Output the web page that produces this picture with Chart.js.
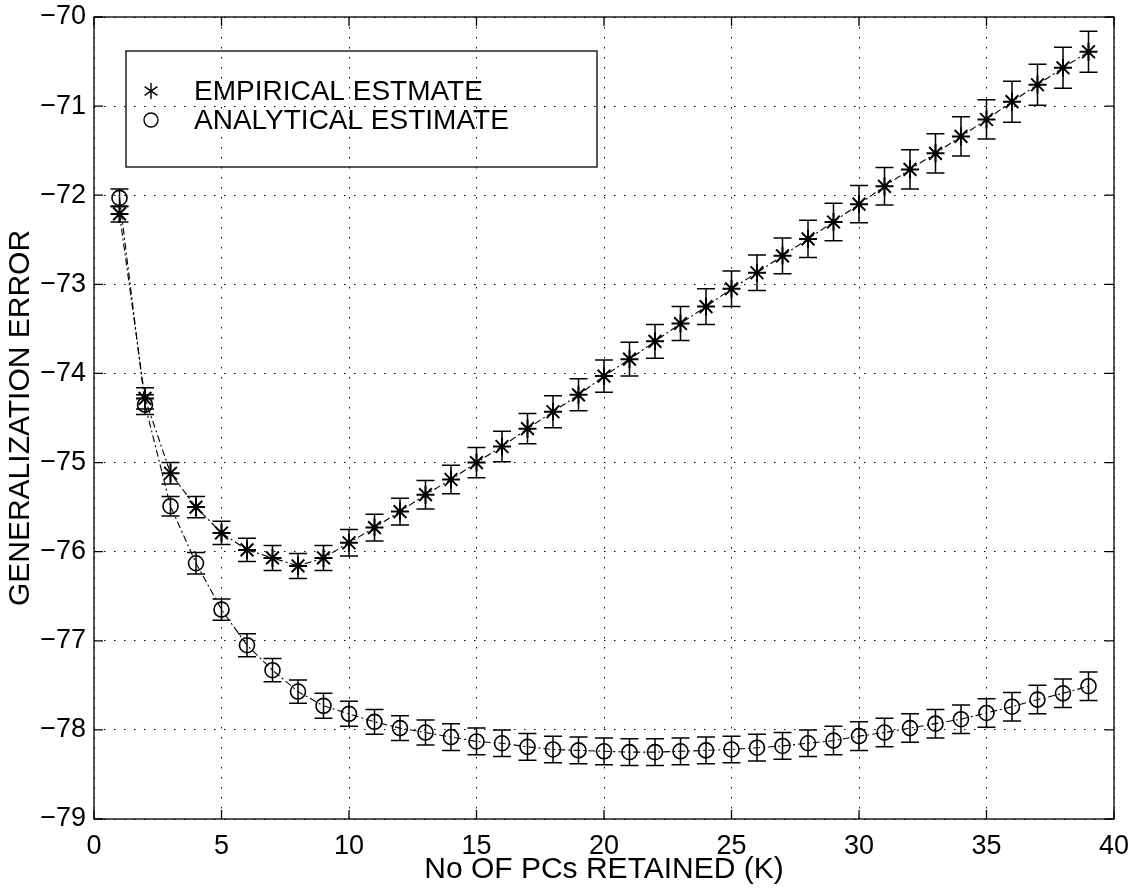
<!DOCTYPE html>
<html>
<head>
<meta charset="utf-8">
<script src="https://cdn.jsdelivr.net/npm/chart.js@4"></script>
<style>
  html, body { margin: 0; padding: 0; background: #fff; }
  #wrap { width: 1138px; height: 890px; }
</style>
</head>
<body>
<div id="wrap"><canvas id="gen-chart" width="1138" height="890"></canvas></div>
<script>
const FONT = '"Liberation Sans", Arial, Helvetica, sans-serif';

// number of PCs retained
const kValues = [1, 2, 3, 4, 5, 6, 7, 8, 9, 10, 11, 12, 13, 14, 15, 16, 17, 18, 19, 20,
  21, 22, 23, 24, 25, 26, 27, 28, 29, 30, 31, 32, 33, 34, 35, 36, 37, 38, 39];

const empirical = [-72.21, -74.28, -75.12, -75.50, -75.79, -75.98, -76.07, -76.16, -76.07, -75.90,
  -75.73, -75.55, -75.36, -75.19, -75.00, -74.82, -74.62, -74.43, -74.24, -74.03,
  -73.84, -73.64, -73.44, -73.25, -73.05, -72.87, -72.68, -72.49, -72.30, -72.10,
  -71.90, -71.71, -71.53, -71.34, -71.15, -70.95, -70.76, -70.57, -70.39];
const empiricalErr = [0.09, 0.12, 0.12, 0.12, 0.13, 0.13, 0.14, 0.14, 0.14, 0.15,
  0.15, 0.15, 0.16, 0.16, 0.17, 0.17, 0.17, 0.18, 0.18, 0.18,
  0.19, 0.19, 0.19, 0.20, 0.20, 0.20, 0.20, 0.21, 0.21, 0.21,
  0.21, 0.22, 0.22, 0.22, 0.22, 0.23, 0.23, 0.23, 0.23];

const analytical = [-72.03, -74.35, -75.49, -76.13, -76.65, -77.05, -77.33, -77.57, -77.73, -77.82,
  -77.91, -77.98, -78.03, -78.08, -78.13, -78.15, -78.19, -78.22, -78.23, -78.24,
  -78.25, -78.25, -78.24, -78.23, -78.22, -78.20, -78.18, -78.15, -78.12, -78.07,
  -78.03, -77.98, -77.93, -77.88, -77.81, -77.74, -77.66, -77.59, -77.51];
const analyticalErr = [0.10, 0.11, 0.11, 0.12, 0.12, 0.13, 0.13, 0.13, 0.14, 0.14,
  0.14, 0.14, 0.14, 0.15, 0.15, 0.15, 0.15, 0.15, 0.15, 0.15,
  0.15, 0.15, 0.15, 0.15, 0.15, 0.15, 0.15, 0.15, 0.16, 0.16,
  0.16, 0.16, 0.16, 0.16, 0.16, 0.16, 0.16, 0.16, 0.16];

const legendLabels = ['EMPIRICAL ESTMATE', 'ANALYTICAL ESTIMATE'];
const xTitle = 'No OF PCs RETAINED (K)';
const yTitle = 'GENERALIZATION ERROR';

function toPoints(xs, ys) {
  return xs.map((x, i) => ({ x: x, y: ys[i] }));
}

function fmtTick(v) {
  return v < 0 ? '\u2212' + Math.abs(v) : String(v);
}

// vertical error bars with caps, drawn through the scales
const errorBars = {
  id: 'errorBars',
  afterDatasetsDraw(chart) {
    const ctx = chart.ctx;
    const xs = chart.scales.x, ys = chart.scales.y;
    ctx.save();
    ctx.strokeStyle = '#000';
    ctx.lineWidth = 1.5;
    ctx.setLineDash([]);
    chart.data.datasets.forEach(ds => {
      if (!ds.errors) return;
      ds.data.forEach((p, i) => {
        const px = xs.getPixelForValue(p.x);
        const top = ys.getPixelForValue(p.y + ds.errors[i]);
        const bot = ys.getPixelForValue(p.y - ds.errors[i]);
        ctx.beginPath();
        ctx.moveTo(px, top); ctx.lineTo(px, bot);
        ctx.moveTo(px - 9, top); ctx.lineTo(px + 9, top);
        ctx.moveTo(px - 9, bot); ctx.lineTo(px + 9, bot);
        ctx.stroke();
      });
    });
    ctx.restore();
  }
};

// box, inward ticks and legend box (matlab look)
const frame = {
  id: 'frame',
  afterDraw(chart) {
    const ctx = chart.ctx;
    const a = chart.chartArea;
    const xs = chart.scales.x, ys = chart.scales.y;
    ctx.save();
    ctx.setLineDash([]);
    ctx.strokeStyle = '#000';
    ctx.lineWidth = 1.3;
    ctx.strokeRect(a.left, a.top, a.right - a.left, a.bottom - a.top);
    ctx.beginPath();
    xs.ticks.forEach(t => {
      const px = xs.getPixelForValue(t.value);
      ctx.moveTo(px, a.bottom); ctx.lineTo(px, a.bottom - 9);
      ctx.moveTo(px, a.top); ctx.lineTo(px, a.top + 9);
    });
    ys.ticks.forEach(t => {
      const py = ys.getPixelForValue(t.value);
      ctx.moveTo(a.left, py); ctx.lineTo(a.left + 9, py);
      ctx.moveTo(a.right, py); ctx.lineTo(a.right - 9, py);
    });
    ctx.stroke();

    // legend
    const lx = a.left + 32, ly = a.top + 34, lw = 471, lh = 116;
    ctx.lineWidth = 1.3;
    ctx.strokeRect(lx, ly, lw, lh);
    ctx.fillStyle = '#000';
    ctx.font = '28px ' + FONT;
    ctx.textBaseline = 'middle';
    ctx.textAlign = 'left';
    const rows = [ly + 40, ly + 69];
    ctx.fillText(legendLabels[0], lx + 68, rows[0] + 1);
    ctx.fillText(legendLabels[1], lx + 68, rows[1] + 1);
    // star marker
    const sx = lx + 25, r = 8;
    ctx.lineWidth = 1.4;
    ctx.beginPath();
    ctx.moveTo(sx, rows[0] - r); ctx.lineTo(sx, rows[0] + r);
    ctx.moveTo(sx - r * 0.8, rows[0] - r * 0.55); ctx.lineTo(sx + r * 0.8, rows[0] + r * 0.55);
    ctx.moveTo(sx - r * 0.8, rows[0] + r * 0.55); ctx.lineTo(sx + r * 0.8, rows[0] - r * 0.55);
    ctx.stroke();
    // circle marker
    ctx.beginPath();
    ctx.arc(sx, rows[1], 7, 0, Math.PI * 2);
    ctx.stroke();
    ctx.restore();
  }
};

const ctx = document.getElementById('gen-chart').getContext('2d');
new Chart(ctx, {
  type: 'line',
  data: {
    datasets: [
      {
        label: legendLabels[0],
        data: toPoints(kValues, empirical),
        errors: empiricalErr,
        borderColor: '#000',
        borderWidth: 1.1,
        borderDash: [7, 3, 2, 3],
        pointStyle: 'star',
        pointRadius: 9,
        pointBorderWidth: 2,
        pointBorderColor: '#000',
        pointBackgroundColor: 'transparent',
        tension: 0,
        fill: false
      },
      {
        label: legendLabels[1],
        data: toPoints(kValues, analytical),
        errors: analyticalErr,
        borderColor: '#000',
        borderWidth: 1.1,
        borderDash: [7, 3, 2, 3],
        pointStyle: 'circle',
        pointRadius: 7.5,
        pointBorderWidth: 1.6,
        pointBorderColor: '#000',
        pointBackgroundColor: 'transparent',
        tension: 0,
        fill: false
      }
    ]
  },
  options: {
    responsive: false,
    animation: false,
    layout: { padding: { top: 17, right: 24, left: 0, bottom: 0 } },
    plugins: {
      legend: { display: false },
      tooltip: { enabled: false }
    },
    scales: {
      x: {
        type: 'linear',
        min: 0,
        max: 40,
        ticks: { stepSize: 5, padding: 11, color: '#000', font: { family: FONT, size: 27 }, maxRotation: 0 },
        grid: { color: '#000', lineWidth: 1, drawTicks: false },
        border: { display: false, dash: [1.5, 8.5] },
        title: { display: true, text: xTitle, color: '#000', font: { family: FONT, size: 30 }, padding: { top: 0, bottom: 2 } },
        afterFit: s => { s.height = 71; s.paddingLeft = 0; s.paddingRight = 0; }
      },
      y: {
        min: -79,
        max: -70,
        ticks: { stepSize: 1, padding: 8, color: '#000', font: { family: FONT, size: 27 }, callback: v => fmtTick(v) },
        grid: { color: '#000', lineWidth: 1, drawTicks: false },
        border: { display: false, dash: [1.5, 8.5] },
        title: { display: true, text: yTitle, color: '#000', font: { family: FONT, size: 30 }, padding: { top: 3, bottom: 0 } },
        afterFit: s => { s.width = 94; s.paddingTop = 0; s.paddingBottom = 0; }
      }
    }
  },
  plugins: [errorBars, frame]
});
</script>
</body>
</html>
